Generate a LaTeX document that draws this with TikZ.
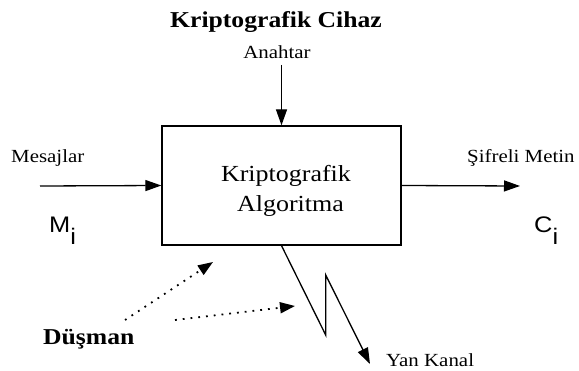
\documentclass[tikz,border=0pt]{standalone}
\usepackage{fontspec}
\setmainfont{Liberation Serif}
\newfontfamily\arialf{Liberation Sans}
\usetikzlibrary{arrows.meta}
\newcommand{\hs}[1]{\scalebox{1.13}[1]{#1}}
\tikzset{
  lbl/.style={inner sep=0pt, font=\fontsize{18.5}{20}\selectfont},
  bigl/.style={inner sep=0pt, font=\fontsize{23}{26}\selectfont},
  sym/.style={inner sep=0pt, font=\arialf\fontsize{22.5}{24}\selectfont},
  arr/.style={line width=1.3pt, -{Triangle[length=16pt,width=11pt]}},
  dotarr/.style={line width=1.8pt, dash pattern=on 1.8pt off 6pt, -{Triangle[length=15pt,width=11pt]}},
}
\begin{document}
\begin{tikzpicture}[x=1pt,y=-1pt]
\useasboundingbox (0,0) rectangle (579,371);
\node[bigl, font=\bfseries\fontsize{22.7}{26}\selectfont, anchor=base] (title) at (276,28) {\hs{Kriptografik Cihaz}};
\node[lbl, anchor=base] (key) at (277,59) {\hs{Anahtar}};
\node[draw, line width=1.3pt, minimum width=239pt, minimum height=119pt, inner sep=0pt] (alg) at (281.5,185.5) {};
\node[bigl, anchor=base] (alg1) at (286,182) {\hs{Kriptografik}};
\node[bigl, anchor=base] (alg2) at (290.5,212) {\hs{Algoritma}};
\node[lbl, anchor=base west] (msg) at (11,163) {\hs{Mesajlar}};
\node[lbl, anchor=base west] (ct) at (467,163) {\hs{Şifreli Metin}};
\node[sym, anchor=base west] (mi) at (49,233) {\hs{M}\raisebox{-12pt}{\hs{i}}};
\node[sym, anchor=base west] (ci) at (534,233) {\hs{C}\raisebox{-12pt}{\hs{i}}};
\node[bigl, font=\bfseries\fontsize{22.7}{26}\selectfont, anchor=base west] (enemy) at (43,345) {\hs{Düşman}};
\node[lbl, anchor=base west] (side) at (386,367) {\hs{Yan Kanal}};
\coordinate (kin) at (281.5,65);
\coordinate (min) at (40,186);
\coordinate (cout) at (520,186);
\coordinate (z1) at (325.7,335);
\coordinate (z2) at (325.7,275);
\coordinate (zend) at (370,364);
\coordinate (d1s) at (125,320);
\coordinate (d1e) at (213,262);
\coordinate (d2s) at (175,320);
\coordinate (d2e) at (295,306);
\draw[arr] (kin) -- (alg.north);
\draw[arr] (min) -- (alg.west);
\draw[arr] (alg.east) -- (cout);
\draw[arr, line join=miter] (alg.south) -- (z1) -- (z2) -- (zend);
\draw[dotarr] (d1s) -- (d1e);
\draw[dotarr] (d2s) -- (d2e);
\end{tikzpicture}
\end{document}
